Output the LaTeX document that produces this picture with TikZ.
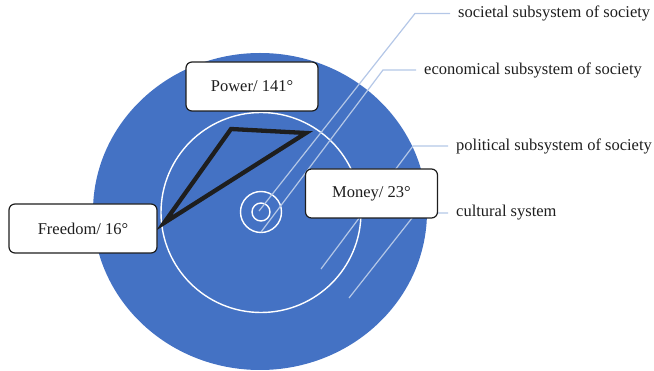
\documentclass[tikz,border=0pt]{standalone}
\usepackage{fontspec}
\setmainfont{Liberation Serif}
\usepackage{tikz}
\usetikzlibrary{positioning}
\definecolor{ringblue}{RGB}{68,114,196}
\definecolor{paleblue}{RGB}{180,199,231}
\definecolor{ink}{RGB}{30,30,30}

\begin{document}
\begin{tikzpicture}[x=1pt, y=-1pt, font=\fontsize{16.5}{19}\selectfont\color{ink}]
  \tikzstyle{tag} = [rectangle, draw=ink, fill=white, line width=1.2pt, rounded corners=6pt, minimum width=132pt, minimum height=49pt, text centered]
  \tikzstyle{sublabel} = [anchor=west, inner xsep=8pt, inner ysep=0pt]
  \tikzstyle{leadline} = [draw=paleblue, line width=1.2pt]
  \tikzstyle{ring} = [draw=white, line width=1.4pt]

  \useasboundingbox (0,0) rectangle (654,371);

  % society disc with its inner rings
  \fill[ringblue] (260,211.5) ellipse [x radius=167pt, y radius=158.5pt];
  \draw[ring] (261,212.5) circle [radius=100pt];
  \draw[ring] (261,212) circle [radius=20.5pt];
  \draw[ring] (261,212) circle [radius=9pt];

  % media triangle
  \coordinate (pw) at (231,129);
  \coordinate (mn) at (306,133);
  \coordinate (fr) at (164,223);
  \draw[line width=4.3pt, color=ink] (pw) -- (mn) -- (fr) -- cycle;

  % subsystem labels and their leaders
  \node[sublabel] (soc) at (450,13.5) {societal subsystem of society};
  \node[sublabel] (eco) at (416,70) {economical subsystem of society};
  \node[sublabel] (pol) at (448,146) {political subsystem of society};
  \node[sublabel] (cul) at (448,213) {cultural system};

  \coordinate (soc0) at (259,211);
  \coordinate (soc1) at (415,13.5);
  \coordinate (eco0) at (261,232);
  \coordinate (eco1) at (383,70);
  \coordinate (pol0) at (321,269);
  \coordinate (pol1) at (413,146);
  \coordinate (cul0) at (349,298);
  \coordinate (cul1) at (416,213);

  \draw[leadline] (soc0) -- (soc1) -- (soc.west);
  \draw[leadline] (eco0) -- (eco1) -- (eco.west);
  \draw[leadline] (pol0) -- (pol1) -- (pol.west);
  \draw[leadline] (cul0) -- (cul1) -- (cul.west);

  % media boxes
  \node[tag] (power) at (252,86.5) {Power/ 141°};
  \node[tag] (money) at (371.5,193.5) {Money/ 23°};
  \node[tag, minimum width=148pt] (freedom) at (83,228.5) {Freedom/ 16°};
\end{tikzpicture}
\end{document}
